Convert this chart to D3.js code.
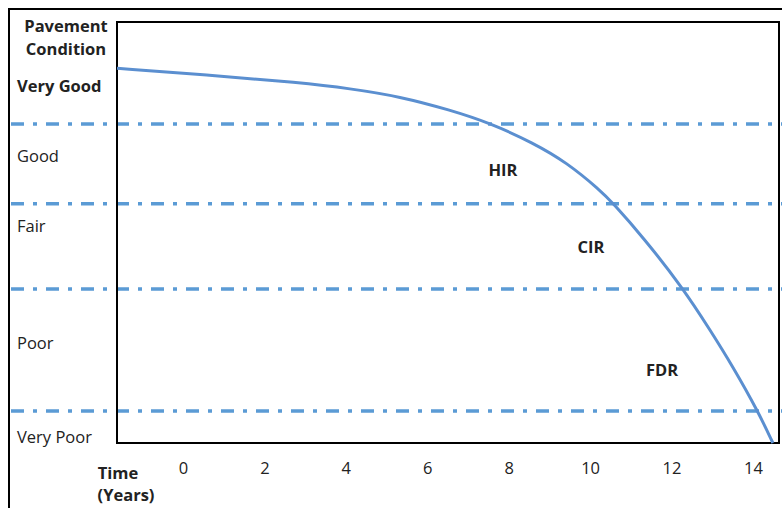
<!DOCTYPE html>
<html><head><meta charset="utf-8">
<script src="https://cdn.jsdelivr.net/npm/d3@7"></script>
<style>body{margin:0;background:#fff}svg{display:block}text{font-family:"Open Sans",sans-serif;fill:#222}</style>
</head><body>
<script>
// Pavement deterioration curve: time (years) vs condition index (0-100)
const curveYears = [-1.62, 0.66, 2.87, 4.10, 5.33, 6.56, 7.54, 8.60, 9.43, 10.24, 10.56, 11.30, 12.28, 12.95, 13.51, 14.13, 14.49];
const curveCondition = [89.0, 87.4, 85.6, 84.2, 82.3, 79.1, 76.0, 71.3, 66.6, 60.1, 57.0, 48.9, 36.8, 26.8, 18.1, 7.4, 0];
const thresholds = [75.8, 56.8, 36.6, 7.6];
const categories = ["Very Good", "Good", "Fair", "Poor", "Very Poor"];
const categoryValues = [84.8, 68.2, 51.5, 23.8, 1.4];
const treatments = ["HIR", "CIR", "FDR"];
const treatmentYears = [7.86, 10.02, 11.77];
const treatmentValues = [64.8, 46.6, 17.3];
const xTicks = [0, 2, 4, 6, 8, 10, 12, 14];

const W = 782, H = 508;
const FS = 16.5;
const svg = d3.select("body").append("svg").attr("width", W).attr("height", H);
const x = d3.scaleLinear().domain([-1.62, 14.64]).range([117, 779]);
const y = d3.scaleLinear().domain([0, 100]).range([443, 22]);

// outer frame
svg.append("rect").attr("x", 9).attr("y", 9).attr("width", 900).attr("height", 700)
  .attr("fill", "none").attr("stroke", "#000").attr("stroke-width", 2);

// threshold dash-dot lines
svg.selectAll("line.th").data(thresholds).join("line").attr("class", "th")
  .attr("x1", 11).attr("x2", W).attr("y1", d => y(d)).attr("y2", d => y(d))
  .attr("stroke", "#5b9bd5").attr("stroke-width", 3.5).attr("stroke-dasharray", "13,9,4,9");

// plot box
svg.append("rect").attr("x", x.range()[0]).attr("y", y.range()[1])
  .attr("width", x.range()[1] - x.range()[0]).attr("height", y.range()[0] - y.range()[1])
  .attr("fill", "none").attr("stroke", "#000").attr("stroke-width", 2);

// curve
const pts = curveYears.map((t, i) => [t, curveCondition[i]]);
svg.append("path").datum(pts)
  .attr("d", d3.line().x(d => x(d[0])).y(d => y(d[1])).curve(d3.curveBasis))
  .attr("fill", "none").attr("stroke", "#5b8fd0").attr("stroke-width", 3);

// x axis
const ax = svg.append("g").attr("transform", "translate(0,462)")
  .call(d3.axisBottom(x).tickValues(xTicks).tickSize(0).tickPadding(0).tickFormat(d3.format("d")));
ax.select(".domain").remove();
ax.selectAll("text").attr("font-family", "Open Sans").attr("font-size", FS).attr("fill", "#222").attr("dy", "0.71em");

svg.append("text").attr("x", 118).attr("y", 479).attr("text-anchor", "middle")
  .attr("font-weight", "bold").attr("font-size", FS).text("Time");
svg.append("text").attr("x", 126).attr("y", 501).attr("text-anchor", "middle")
  .attr("font-weight", "bold").attr("font-size", FS).text("(Years)");

// y labels
svg.append("text").attr("x", 66).attr("y", 32).attr("text-anchor", "middle")
  .attr("font-weight", "bold").attr("font-size", FS).text("Pavement");
svg.append("text").attr("x", 66).attr("y", 55).attr("text-anchor", "middle")
  .attr("font-weight", "bold").attr("font-size", FS).text("Condition");
svg.selectAll("text.cat").data(categories).join("text").attr("class", "cat")
  .attr("x", 17).attr("y", (d, i) => y(categoryValues[i])).attr("dy", "0.35em")
  .attr("font-size", FS).attr("font-weight", (d, i) => i === 0 ? "bold" : "normal").text(d => d);

// treatments
svg.selectAll("text.tr").data(treatments).join("text").attr("class", "tr")
  .attr("x", (d, i) => x(treatmentYears[i])).attr("y", (d, i) => y(treatmentValues[i]))
  .attr("dy", "0.35em").attr("text-anchor", "middle")
  .attr("font-weight", "bold").attr("font-size", FS).text(d => d);
</script>
</body></html>
